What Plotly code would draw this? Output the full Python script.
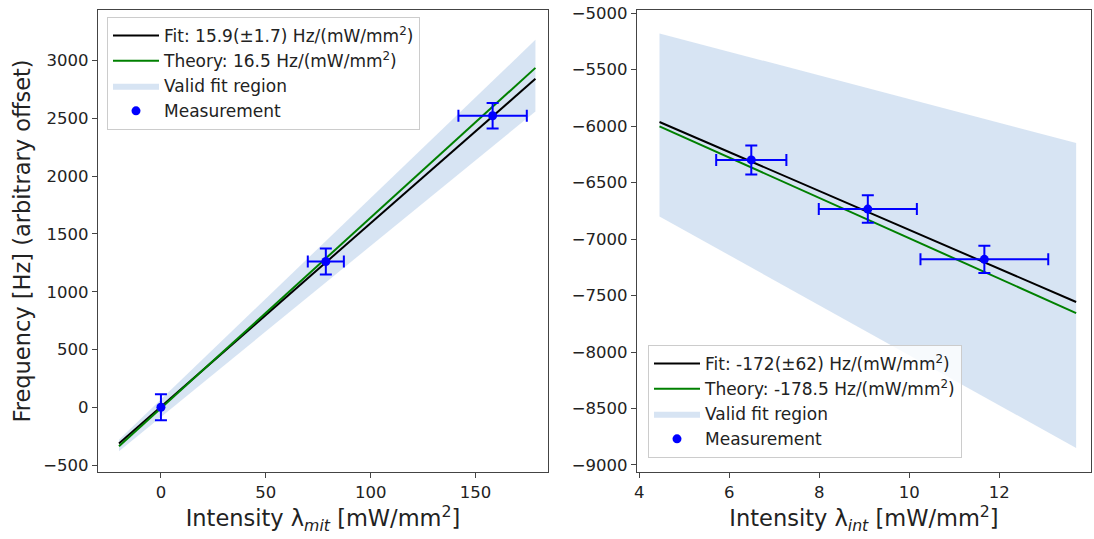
import plotly.graph_objects as go

# ---- left panel: lambda_mit ----
mit_x = [0.0, 78.6, 158.1]
mit_y = [0.0, 1262.0, 2523.0]
mit_xerr = [0.0, 8.6, 16.3]
mit_yerr = [112.0, 112.0, 111.0]

mit_line_x = [-20.0, 178.5]
mit_fit_slope, mit_fit_offset = 15.9, 4.0
mit_theory_slope, mit_theory_offset = 16.5, -8.0

mit_band_x = [-20.0, 178.5]
mit_band_upper = [-280.0, 3180.0]
mit_band_lower = [-380.0, 2560.0]

# ---- right panel: lambda_int ----
int_x = [6.49, 9.08, 11.67]
int_y = [-6300.0, -6735.0, -7180.0]
int_xerr = [0.78, 1.09, 1.42]
int_yerr = [128.0, 122.0, 120.0]

int_line_x = [4.45, 13.71]
int_fit_slope, int_fit_offset = -172.0, -5199.0
int_theory_slope, int_theory_offset = -178.5, -5208.0

int_band_x = [4.45, 13.71]
int_band_upper = [-5180.0, -6150.0]
int_band_lower = [-6800.0, -8850.0]

FONT = "DejaVu Sans"
BAND_COLOR = "rgba(175,202,232,0.5)"
W, H = 1094, 539

fig = go.Figure()


def add_panel(xa, ya, legend, band_x, band_lo, band_hi, line_x,
              fit_s, fit_o, th_s, th_o, px, py, pxe, pye,
              fit_name, th_name):
    # shaded valid-fit region as a closed polygon
    poly_x = list(band_x) + list(band_x)[::-1] + [band_x[0]]
    poly_y = list(band_hi) + list(band_lo)[::-1] + [band_hi[0]]
    fig.add_trace(go.Scatter(
        x=poly_x, y=poly_y, xaxis=xa, yaxis=ya, mode="lines",
        fill="toself", fillcolor=BAND_COLOR, line=dict(width=0),
        name="Valid fit region", legend=legend, legendrank=3))
    fig.add_trace(go.Scatter(
        x=line_x, y=[fit_s * v + fit_o for v in line_x],
        xaxis=xa, yaxis=ya, mode="lines",
        line=dict(color="black", width=2),
        name=fit_name, legend=legend, legendrank=1))
    fig.add_trace(go.Scatter(
        x=line_x, y=[th_s * v + th_o for v in line_x],
        xaxis=xa, yaxis=ya, mode="lines",
        line=dict(color="#008000", width=2),
        name=th_name, legend=legend, legendrank=2))
    fig.add_trace(go.Scatter(
        x=px, y=py, xaxis=xa, yaxis=ya, mode="markers",
        marker=dict(color="#0000ff", size=9),
        error_x=dict(type="data", array=pxe, color="#0000ff",
                     thickness=2, width=6),
        error_y=dict(type="data", array=pye, color="#0000ff",
                     thickness=2, width=6),
        name="Measurement", legend=legend, legendrank=4))


add_panel("x", "y", "legend", mit_band_x, mit_band_lower, mit_band_upper,
          mit_line_x, mit_fit_slope, mit_fit_offset,
          mit_theory_slope, mit_theory_offset,
          mit_x, mit_y, mit_xerr, mit_yerr,
          "Fit: 15.9(±1.7) Hz/(mW/mm<sup>2</sup>)",
          "Theory: 16.5 Hz/(mW/mm<sup>2</sup>)")
add_panel("x2", "y2", "legend2", int_band_x, int_band_lower, int_band_upper,
          int_line_x, int_fit_slope, int_fit_offset,
          int_theory_slope, int_theory_offset,
          int_x, int_y, int_xerr, int_yerr,
          "Fit: -172(±62) Hz/(mW/mm<sup>2</sup>)",
          "Theory: -178.5 Hz/(mW/mm<sup>2</sup>)")

axis_common = dict(
    showline=True, mirror=True, linecolor="#444", linewidth=1.3,
    ticks="outside", ticklen=5, tickwidth=1.2, tickcolor="#444",
    showgrid=False, zeroline=False,
    tickfont=dict(family=FONT, size=16.5, color="#222"),
    automargin=False,
)
title_font = dict(family=FONT, size=22.5, color="#222")

legend_common = dict(
    font=dict(family=FONT, size=17, color="#222"),
    bgcolor="rgba(255,255,255,0.8)", bordercolor="#cccccc", borderwidth=1,
    xanchor="left", yanchor="top", itemwidth=46, traceorder="normal",
    tracegroupgap=0,
)

fig.update_layout(
    width=W, height=H,
    margin=dict(l=0, r=0, t=0, b=0),
    paper_bgcolor="white", plot_bgcolor="white",
    font=dict(family=FONT),
    xaxis=dict(axis_common, domain=[98 / W, 548 / W], range=[-30.0, 184.5],
               tickvals=[0, 50, 100, 150],
               title=dict(text="Intensity λ<sub><i>mit</i></sub> [mW/mm<sup>2</sup>]",
                          font=title_font, standoff=6)),
    yaxis=dict(axis_common, domain=[1 - 472 / H, 1 - 10 / H],
               range=[-560, 3438], dtick=500,
               title=dict(text="Frequency [Hz] (arbitrary offset)",
                          font=title_font, standoff=6)),
    xaxis2=dict(axis_common, domain=[637 / W, 1091 / W], range=[3.95, 14.04],
                tickvals=[4, 6, 8, 10, 12], anchor="y2",
                title=dict(text="Intensity λ<sub><i>int</i></sub> [mW/mm<sup>2</sup>]",
                           font=title_font, standoff=6)),
    yaxis2=dict(axis_common, domain=[1 - 472 / H, 1 - 10 / H],
                range=[-9062, -4973], dtick=500, anchor="x2"),
    legend=dict(legend_common, x=107 / W, y=1 - 17 / H),
    legend2=dict(legend_common, x=648 / W, y=1 - 345 / H),
    showlegend=True,
)

fig.write_html("out.html")
